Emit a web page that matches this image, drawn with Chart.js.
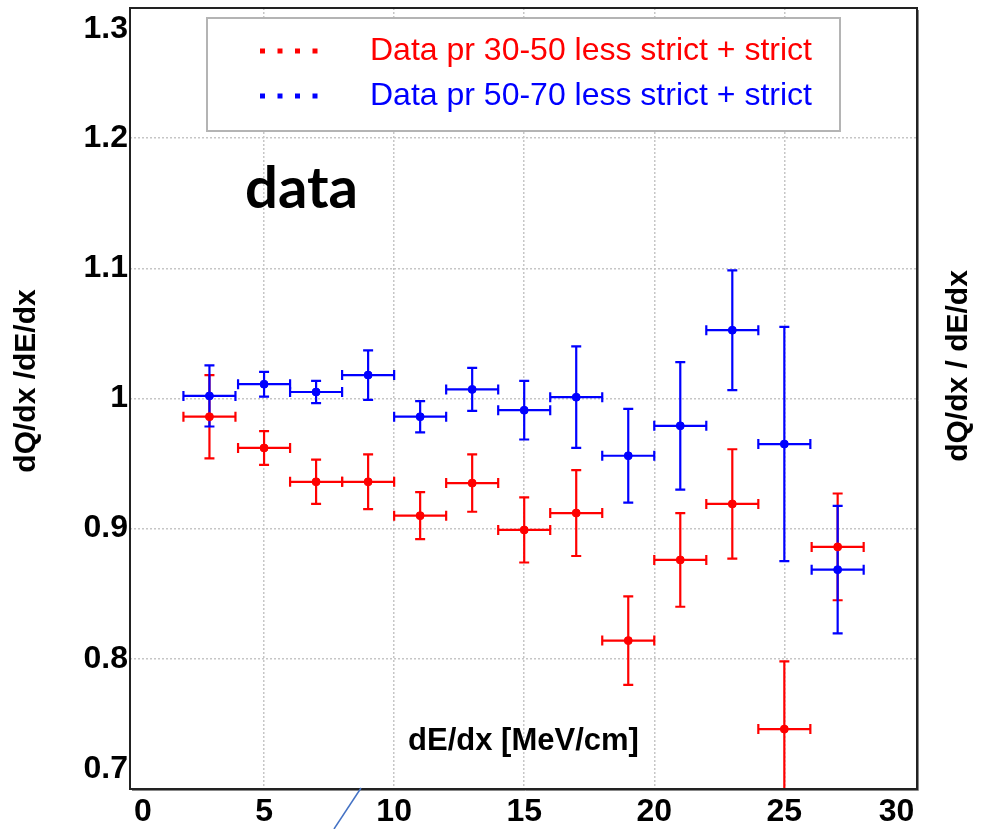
<!DOCTYPE html>
<html>
<head>
<meta charset="utf-8">
<script src="https://cdn.jsdelivr.net/npm/chart.js@4.4.1/dist/chart.umd.min.js"></script>
<style>
  html, body { margin: 0; padding: 0; background: #fff; }
  #wrap { width: 984px; height: 829px; }
</style>
</head>
<body>
<div id="wrap"><canvas id="ratio-chart" width="984" height="829"></canvas></div>
<script>
// bin centres (dE/dx, MeV/cm), each bin is 2 wide
var binCenters = [2.9, 5, 7, 9, 11, 13, 15, 17, 19, 21, 23, 25, 27.05];
var binHalf = 1;

var redLabel = "Data pr 30-50 less strict + strict";
var redValues = [0.986, 0.962, 0.936, 0.936, 0.910, 0.935, 0.899, 0.912, 0.814, 0.876, 0.919, 0.746, 0.886];
var redErr = [0.032, 0.013, 0.017, 0.021, 0.018, 0.022, 0.025, 0.033, 0.034, 0.036, 0.042, 0.052, 0.041];

var blueLabel = "Data pr 50-70 less strict + strict";
var blueValues = [1.002, 1.011, 1.005, 1.018, 0.986, 1.007, 0.991, 1.001, 0.956, 0.979, 1.0525, 0.965, 0.8685];
var blueErr = [0.0235, 0.0095, 0.0085, 0.019, 0.012, 0.0165, 0.0225, 0.039, 0.036, 0.049, 0.046, 0.090, 0.049];

var xTicks = [0, 5, 10, 15, 20, 25, 30];
var yTicks = [0.7, 0.8, 0.9, 1.0, 1.1, 1.2, 1.3];

var FONT = "'Liberation Sans', Arial, sans-serif";
var tickFont = { family: FONT, size: 32, weight: 'bold' };

function points(vals, errs) {
  return binCenters.map(function (x, i) {
    return { x: x, y: vals[i], err: errs[i] };
  });
}

// horizontal + vertical error bars with caps
var errorBars = {
  id: 'errorBars',
  beforeDatasetsDraw: function (chart) {
    var ctx = chart.ctx, xs = chart.scales.x, ys = chart.scales.y, a = chart.chartArea;
    ctx.save();
    ctx.beginPath();
    ctx.rect(a.left, a.top, a.right - a.left, a.bottom - a.top);
    ctx.clip();
    chart.data.datasets.forEach(function (ds) {
      ctx.strokeStyle = ds.borderColor;
      ctx.lineWidth = 2.2;
      ds.data.forEach(function (p) {
        var x = xs.getPixelForValue(p.x), y = ys.getPixelForValue(p.y);
        var x0 = xs.getPixelForValue(p.x - binHalf), x1 = xs.getPixelForValue(p.x + binHalf);
        var y0 = ys.getPixelForValue(p.y + p.err), y1 = ys.getPixelForValue(p.y - p.err);
        ctx.beginPath();
        ctx.moveTo(x0, y); ctx.lineTo(x1, y);
        ctx.moveTo(x0, y - 5); ctx.lineTo(x0, y + 5);
        ctx.moveTo(x1, y - 5); ctx.lineTo(x1, y + 5);
        ctx.moveTo(x, y0); ctx.lineTo(x, y1);
        ctx.moveTo(x - 5, y0); ctx.lineTo(x + 5, y0);
        ctx.moveTo(x - 5, y1); ctx.lineTo(x + 5, y1);
        ctx.stroke();
      });
    });
    ctx.restore();
  }
};

var extras = {
  id: 'extras',
  afterDraw: function (chart) {
    var ctx = chart.ctx, a = chart.chartArea, ys = chart.scales.y;
    ctx.save();
    // frame
    ctx.strokeStyle = '#222';
    ctx.lineWidth = 2;
    ctx.strokeRect(a.left, a.top, a.right - a.left, a.bottom - a.top);
    ctx.strokeStyle = '#888';
    ctx.lineWidth = 1;
    ctx.beginPath();
    ctx.moveTo(a.right + 1.5, a.top + 2); ctx.lineTo(a.right + 1.5, a.bottom + 1.5);
    ctx.lineTo(a.left + 2, a.bottom + 1.5);
    ctx.stroke();

    // end labels of y axis sit inside the range
    ctx.fillStyle = '#000';
    ctx.font = 'bold 32px ' + FONT;
    ctx.textAlign = 'right';
    ctx.textBaseline = 'middle';
    ctx.fillText('1.3', a.left - 2, ys.getPixelForValue(1.3) + 21);
    ctx.fillText('0.7', a.left - 2, ys.getPixelForValue(0.7) - 20);

    // legend box
    var lx = 207, ly = 18, lw = 633, lh = 113;
    ctx.fillStyle = '#fff';
    ctx.fillRect(lx, ly, lw, lh);
    ctx.strokeStyle = '#b4b4b4';
    ctx.lineWidth = 2;
    ctx.strokeRect(lx, ly, lw, lh);
    ctx.font = '32px ' + FONT;
    ctx.textAlign = 'left';
    chart.data.datasets.forEach(function (ds, i) {
      var cy = ly + 33 + i * 45;
      ctx.fillStyle = ds.borderColor;
      for (var k = 0; k < 4; k++) ctx.fillRect(260 + k * 17.5, cy - 2.5, 5, 5);
      ctx.fillText(ds.label, 370, cy);
    });

    // axis labels on both sides, reading upwards
    ctx.fillStyle = '#000';
    ctx.textAlign = 'center';
    ctx.font = 'bold 30px ' + FONT;
    ctx.save();
    ctx.translate(27, 381);
    ctx.rotate(-Math.PI / 2);
    ctx.fillText('dQ/dx /dE/dx', 0, 0);
    ctx.restore();
    ctx.translate(959, 366);
    ctx.rotate(-Math.PI / 2);
    ctx.fillText('dQ/dx / dE/dx', 0, 0);
    ctx.restore();

    // slide annotation
    ctx.save();
    ctx.font = 'bold 58px Lato, "Open Sans", sans-serif';
    ctx.fillStyle = '#000';
    ctx.textBaseline = 'alphabetic';
    ctx.fillText('data', 245, 208);
    ctx.strokeStyle = '#4472c4';
    ctx.lineWidth = 1.5;
    ctx.beginPath();
    ctx.moveTo(361, 788); ctx.lineTo(334, 829);
    ctx.stroke();
    ctx.restore();
  }
};

function gridColor(c) {
  var v = c.tick.value;
  return (v <= 0.0001 || v >= 30 || Math.abs(v - 0.7) < 1e-6 || Math.abs(v - 1.3) < 1e-6) ? 'rgba(0,0,0,0)' : '#c6c6c6';
}

function noPad(s) {
  s.paddingTop = 0;
  s.paddingBottom = 0;
}

new Chart(document.getElementById('ratio-chart'), {
  type: 'scatter',
  data: {
    datasets: [{
      label: redLabel,
      data: points(redValues, redErr),
      borderColor: '#ff0000',
      backgroundColor: '#ff0000',
      pointRadius: 4,
      pointHoverRadius: 4
    }, {
      label: blueLabel,
      data: points(blueValues, blueErr),
      borderColor: '#0000ff',
      backgroundColor: '#0000ff',
      pointRadius: 4,
      pointHoverRadius: 4
    }]
  },
  options: {
    responsive: false,
    animation: false,
    layout: { padding: { top: 8 } },
    plugins: {
      legend: { display: false },
      tooltip: { enabled: false }
    },
    scales: {
      x: {
        type: 'linear',
        min: -0.154,
        max: 30.1,
        afterBuildTicks: function (s) { s.ticks = xTicks.map(function (v) { return { value: v }; }); },
        afterFit: function (s) { s.height = 40; },
        border: { display: false, dash: [2, 2] },
        grid: { color: gridColor, lineWidth: 1.5, drawTicks: false },
        ticks: { color: '#000', font: tickFont, padding: 4, align: 'inner', maxRotation: 0 },
        title: {
          display: true,
          text: 'dE/dx [MeV/cm]',
          color: '#000',
          font: { family: FONT, size: 31, weight: 'bold' },
          padding: { top: 0, bottom: 69 }
        }
      },
      y: {
        min: 0.7,
        max: 1.3,
        afterBuildTicks: function (s) { s.ticks = yTicks.map(function (v) { return { value: v }; }); },
        afterFit: function (s) { s.width = 130; noPad(s); },
        border: { display: false, dash: [2, 2] },
        grid: { color: gridColor, lineWidth: 1.5, drawTicks: false },
        ticks: {
          color: '#000',
          font: tickFont,
          padding: 2,
          callback: function (v) {
            if (Math.abs(v - 0.7) < 1e-6 || Math.abs(v - 1.3) < 1e-6) return '';
            return String(+v.toFixed(1));
          }
        }
      },
      yRight: {
        position: 'right',
        min: 0.7,
        max: 1.3,
        afterFit: function (s) { s.width = 67; noPad(s); },
        border: { display: false },
        grid: { display: false, drawTicks: false },
        ticks: { display: false }
      }
    }
  },
  plugins: [errorBars, extras]
});
</script>
</body>
</html>
